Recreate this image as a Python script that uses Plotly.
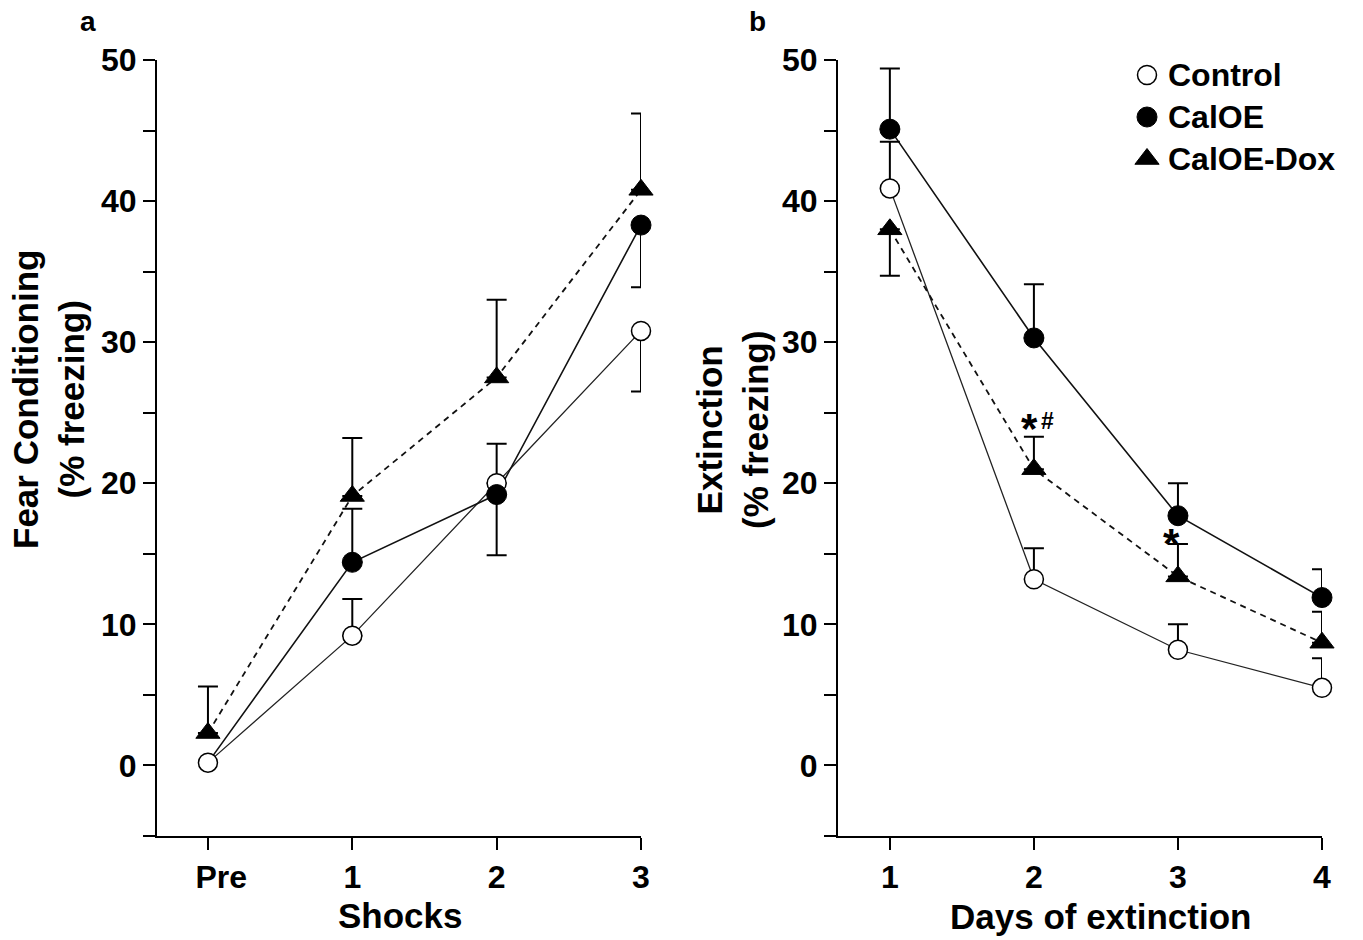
import plotly.graph_objects as go

# ---------------- data ----------------
shock_labels = ["\u00a0\u00a0\u00a0Pre", "1", "2", "3"]
shock_x = [0, 1, 2, 3]
day_labels = ["1", "2", "3", "4"]
days = [1, 2, 3, 4]

# Panel a: Fear conditioning (% freezing)
fc_control = [0.2, 9.2, 20.0, 30.8]
fc_control_up = [0, 2.6, 2.8, 0]
fc_control_down = [0, 0, 0, 4.3]
fc_caloe = [0.2, 14.4, 19.2, 38.3]
fc_caloe_up = [0, 3.8, 0, 0]
fc_caloe_down = [0, 0, 4.3, 4.4]
fc_dox = [2.3, 19.1, 27.5, 40.8]
fc_dox_up = [3.3, 4.1, 5.5, 5.4]
fc_dox_down = [0, 0, 0, 0]

# Panel b: Extinction (% freezing)
ext_control = [40.9, 13.2, 8.2, 5.5]
ext_control_up = [3.3, 2.2, 1.8, 2.1]
ext_control_down = [0, 0, 0, 0]
ext_caloe = [45.1, 30.3, 17.7, 11.9]
ext_caloe_up = [4.3, 3.8, 2.3, 2.0]
ext_caloe_down = [0, 0, 0, 0]
ext_dox = [38.0, 21.0, 13.4, 8.7]
ext_dox_up = [0, 2.3, 2.3, 2.2]
ext_dox_down = [3.3, 0, 0, 0]

y_tickvals = [-5, 0, 5, 10, 15, 20, 25, 30, 35, 40, 45, 50]
y_ticktext = ["", "0", "", "10", "", "20", "", "30", "", "40", "", "50"]

series_names = ["Control", "CalOE", "CalOE-Dox"]

FONT = "Liberation Sans, Arial, Helvetica, sans-serif"
W, H = 1363, 940


def err(up, down):
    # points without any error get no error bar at all ("NaN" is skipped by plotly.js)
    up2 = ["NaN" if (u == 0 and d == 0) else u for u, d in zip(up, down)]
    dn2 = ["NaN" if (u == 0 and d == 0) else d for u, d in zip(up, down)]
    return dict(type="data", symmetric=False, array=up2, arrayminus=dn2,
                color="black", thickness=2, width=10)


def style(name, opacity=None):
    if name == "Control":
        m = dict(symbol="circle", size=19, color="white",
                 line=dict(color="black", width=1.5))
        ln = dict(color="#222222", width=1.3)
    elif name == "CalOE":
        m = dict(symbol="circle", size=20, color="black",
                 line=dict(color="black", width=1))
        ln = dict(color="#111111", width=1.6)
    else:
        m = dict(symbol="triangle-up", size=21, color="black",
                 line=dict(color="black", width=1))
        ln = dict(color="#111111", width=1.8, dash="6px,5px")
    if opacity is not None:
        m["opacity"] = opacity
    return m, ln


fig = go.Figure()

panel_a = [
    ("Control", fc_control, fc_control_up, fc_control_down),
    ("CalOE-Dox", fc_dox, fc_dox_up, fc_dox_down),
    ("CalOE", fc_caloe, fc_caloe_up, fc_caloe_down),
]
panel_b = [
    ("Control", ext_control, ext_control_up, ext_control_down),
    ("CalOE-Dox", ext_dox, ext_dox_up, ext_dox_down),
    ("CalOE", ext_caloe, ext_caloe_up, ext_caloe_down),
]

panels = [(panel_a, shock_x, "x", "y"), (panel_b, days, "x2", "y2")]

# connecting lines first (so that markers sit on top of every line)
for series, xs, xa, ya in panels:
    for name, vals, up, down in series:
        _, ln = style(name)
        fig.add_trace(go.Scatter(x=xs, y=vals, mode="lines", name=name, line=ln,
                                 showlegend=False, cliponaxis=False,
                                 xaxis=xa, yaxis=ya, hoverinfo="skip"))

# markers with their error bars
for series, xs, xa, ya in panels:
    for name, vals, up, down in series:
        # at "Pre" the CalOE point lies hidden under the Control circle
        op = [0, 1, 1, 1] if (name == "CalOE" and xa == "x") else None
        m, _ = style(name, op)
        fig.add_trace(go.Scatter(x=xs, y=vals, mode="markers", name=name,
                                 marker=m, error_y=err(up, down),
                                 showlegend=False, cliponaxis=False,
                                 xaxis=xa, yaxis=ya))

# Manual legend (pixel-based helper axis)
legend_rows = [75, 117, 159]
for name, row in zip(series_names, legend_rows):
    m, _ = style(name)
    fig.add_trace(go.Scatter(x=[1147], y=[row], mode="markers", marker=m,
                             showlegend=False, cliponaxis=False,
                             xaxis="x3", yaxis="y3", hoverinfo="skip"))
    fig.add_annotation(x=1166, y=row, xref="x3", yref="y3", text=name,
                       showarrow=False, xanchor="left", yanchor="middle",
                       font=dict(family=FONT, size=32, color="black", weight="bold"))


def px_x(p):
    return p / W


def px_y(p):
    return 1 - p / H


axis_common = dict(showline=True, linecolor="black", linewidth=2, ticks="outside",
                   ticklen=12, tickwidth=2, tickcolor="black", showgrid=False,
                   zeroline=False, mirror=False, automargin=False,
                   tickfont=dict(family=FONT, size=32, color="black", weight="bold"))

fig.update_layout(
    width=W, height=H, margin=dict(l=0, r=0, t=0, b=0, pad=0, autoexpand=False),
    paper_bgcolor="white", plot_bgcolor="white",
    font=dict(family=FONT, color="black"),
    showlegend=False,
    xaxis=dict(domain=[px_x(157), px_x(641)], range=[-0.353, 3.0], anchor="y",
               tickvals=shock_x, ticktext=shock_labels, **axis_common),
    yaxis=dict(domain=[px_y(836), px_y(60)], range=[-5, 50], anchor="x",
               tickvals=y_tickvals, ticktext=y_ticktext, **axis_common),
    xaxis2=dict(domain=[px_x(838), px_x(1322)], range=[0.64, 4.0], anchor="y2",
                tickvals=days, ticktext=day_labels, **axis_common),
    yaxis2=dict(domain=[px_y(836), px_y(60)], range=[-5, 50], anchor="x2",
                tickvals=y_tickvals, ticktext=y_ticktext, **axis_common),
    xaxis3=dict(domain=[px_x(1100), 1.0], range=[1100, W], visible=False,
                anchor="y3", fixedrange=True, automargin=False),
    yaxis3=dict(domain=[px_y(200), px_y(40)], range=[200, 40], visible=False,
                anchor="x3", fixedrange=True, automargin=False),
)

TITLE_FONT = dict(family=FONT, size=35, color="black", weight="bold")

# x-axis titles
fig.add_annotation(x=px_x(400), y=px_y(915), xref="paper", yref="paper",
                   text="Shocks", showarrow=False, xanchor="center",
                   yanchor="middle", font=TITLE_FONT)
fig.add_annotation(x=px_x(1100), y=px_y(916), xref="paper", yref="paper",
                   text="Days of extinction", showarrow=False, xanchor="center",
                   yanchor="middle", font=TITLE_FONT)

# y-axis titles (two lines, rotated)
fig.add_annotation(x=px_x(49), y=px_y(400), xref="paper", yref="paper",
                   text="Fear Conditioning<br>(% freezing)", textangle=-90,
                   showarrow=False, xanchor="center", yanchor="middle",
                   font=TITLE_FONT)
fig.add_annotation(x=px_x(733), y=px_y(430), xref="paper", yref="paper",
                   text="Extinction<br>(% freezing)", textangle=-90,
                   showarrow=False, xanchor="center", yanchor="middle",
                   font=TITLE_FONT)

# panel labels
for lab, xp in (("a", 88), ("b", 757)):
    fig.add_annotation(x=px_x(xp), y=px_y(22), xref="paper", yref="paper", text=lab,
                       showarrow=False, xanchor="center", yanchor="middle",
                       font=dict(family=FONT, size=28, color="black", weight="bold"))

# significance marks (placed relative to the CalOE-Dox error caps)
STAR_FONT = dict(family=FONT, size=42, color="black", weight="bold")
fig.add_annotation(x=2, y=ext_dox[1] + ext_dox_up[1], xref="x2", yref="y2",
                   text="*", showarrow=False, xanchor="center", yanchor="middle",
                   xshift=-4, yshift=8, font=STAR_FONT)
fig.add_annotation(x=2, y=ext_dox[1] + ext_dox_up[1], xref="x2", yref="y2",
                   text="#", showarrow=False, xanchor="center", yanchor="middle",
                   xshift=14, yshift=16,
                   font=dict(family=FONT, size=23, color="black", weight="bold"))
fig.add_annotation(x=3, y=ext_dox[2] + ext_dox_up[2], xref="x2", yref="y2",
                   text="*", showarrow=False, xanchor="center", yanchor="middle",
                   xshift=-6, yshift=0, font=STAR_FONT)

fig.write_html("out.html")
